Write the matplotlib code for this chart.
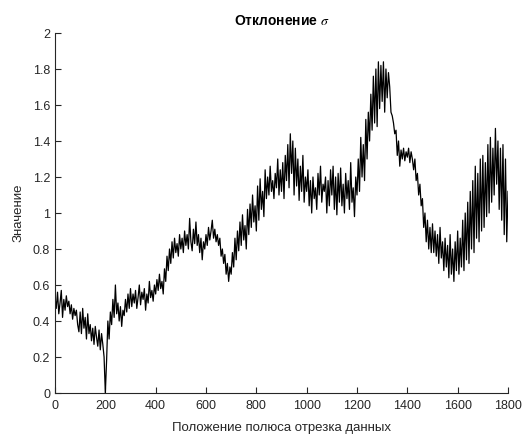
import numpy as np
import matplotlib
matplotlib.use("Agg")
import matplotlib.pyplot as plt

plt.rcParams['font.family'] = ['Liberation Sans', 'DejaVu Sans']
plt.rcParams['mathtext.fontset'] = 'stix'

# Positions along the data segment (step 5)
x_pos = list(range(0, 1801, 5))

# Values (peaks and troughs of the oscillating trace), 20 per 100 units
vals_0000 = [0.53, 0.47, 0.56, 0.44, 0.50, 0.57, 0.42, 0.52, 0.46, 0.54, 0.48, 0.51, 0.44, 0.49, 0.41, 0.47, 0.43, 0.46, 0.38, 0.34]
vals_0100 = [0.45, 0.33, 0.47, 0.36, 0.42, 0.30, 0.44, 0.33, 0.38, 0.29, 0.36, 0.27, 0.37, 0.31, 0.26, 0.35, 0.24, 0.33, 0.27, 0.20]
vals_0200 = [0.00, 0.18, 0.40, 0.30, 0.45, 0.38, 0.52, 0.42, 0.60, 0.44, 0.50, 0.40, 0.48, 0.37, 0.46, 0.43, 0.52, 0.45, 0.55, 0.47]
vals_0300 = [0.58, 0.48, 0.55, 0.50, 0.57, 0.47, 0.53, 0.60, 0.49, 0.56, 0.52, 0.58, 0.46, 0.55, 0.50, 0.62, 0.53, 0.57, 0.51, 0.60]
vals_0400 = [0.55, 0.63, 0.57, 0.66, 0.58, 0.62, 0.55, 0.69, 0.62, 0.76, 0.68, 0.80, 0.72, 0.84, 0.75, 0.86, 0.78, 0.83, 0.76, 0.88]
vals_0500 = [0.80, 0.86, 0.78, 0.90, 0.82, 0.88, 0.80, 0.97, 0.84, 0.79, 0.91, 0.83, 0.95, 0.82, 0.88, 0.78, 0.86, 0.74, 0.84, 0.80]
vals_0600 = [0.88, 0.82, 0.92, 0.85, 0.90, 0.96, 0.86, 0.91, 0.84, 0.88, 0.82, 0.86, 0.76, 0.80, 0.72, 0.77, 0.66, 0.72, 0.62, 0.70]
vals_0700 = [0.66, 0.78, 0.70, 0.86, 0.74, 0.90, 0.79, 0.95, 0.82, 0.99, 0.85, 0.93, 0.80, 1.02, 0.88, 1.05, 0.92, 1.10, 0.95, 1.04]
vals_0800 = [0.90, 1.15, 0.96, 1.19, 1.02, 1.12, 0.98, 1.24, 1.08, 1.20, 1.10, 1.26, 1.12, 1.18, 1.08, 1.22, 1.14, 1.30, 1.10, 1.24]
vals_0900 = [1.12, 1.28, 1.08, 1.32, 1.18, 1.38, 1.14, 1.44, 1.22, 1.40, 1.10, 1.36, 1.15, 1.30, 1.07, 1.26, 1.12, 1.32, 1.06, 1.20]
vals_1000 = [1.12, 1.24, 1.04, 1.18, 1.00, 1.20, 1.08, 1.14, 1.02, 1.22, 1.10, 1.26, 1.06, 1.16, 1.12, 1.20, 1.00, 1.18, 1.04, 1.24]
vals_1100 = [1.10, 1.26, 1.02, 1.20, 0.99, 1.22, 1.06, 1.25, 1.04, 1.16, 1.00, 1.22, 1.08, 1.18, 1.02, 1.28, 1.06, 1.14, 0.98, 1.20]
vals_1200 = [1.10, 1.30, 1.12, 1.42, 1.20, 1.38, 1.18, 1.52, 1.30, 1.56, 1.40, 1.66, 1.46, 1.76, 1.50, 1.80, 1.48, 1.84, 1.58, 1.82]
vals_1300 = [1.62, 1.84, 1.56, 1.80, 1.64, 1.78, 1.70, 1.56, 1.54, 1.50, 1.44, 1.46, 1.32, 1.40, 1.26, 1.35, 1.30, 1.36, 1.29, 1.34]
vals_1400 = [1.31, 1.36, 1.28, 1.34, 1.30, 1.24, 1.30, 1.18, 1.22, 1.10, 1.16, 1.04, 1.08, 0.92, 1.00, 0.84, 0.96, 0.80, 0.92, 0.78]
vals_1500 = [0.94, 0.78, 0.90, 0.76, 0.88, 0.72, 0.92, 0.75, 0.84, 0.68, 0.86, 0.70, 0.82, 0.64, 0.88, 0.66, 0.80, 0.62, 0.84, 0.68]
vals_1600 = [0.90, 0.66, 0.86, 0.70, 0.96, 0.68, 1.00, 0.74, 1.06, 0.72, 1.12, 0.80, 1.18, 0.78, 1.26, 0.86, 1.22, 0.84, 1.30, 0.90]
vals_1700 = [1.32, 0.92, 1.28, 0.98, 1.38, 1.00, 1.42, 1.06, 1.36, 1.10, 1.47, 1.16, 1.40, 1.02, 1.36, 0.96, 1.38, 0.88, 1.30, 0.84]
vals_1800 = [1.12]

values = (vals_0000 + vals_0100 + vals_0200 + vals_0300 + vals_0400 + vals_0500 +
          vals_0600 + vals_0700 + vals_0800 + vals_0900 + vals_1000 + vals_1100 +
          vals_1200 + vals_1300 + vals_1400 + vals_1500 + vals_1600 + vals_1700 +
          vals_1800)

x_ticks = [0, 200, 400, 600, 800, 1000, 1200, 1400, 1600, 1800]
y_ticks = [0, 0.2, 0.4, 0.6, 0.8, 1, 1.2, 1.4, 1.6, 1.8, 2]
y_tick_labels = ['0', '0.2', '0.4', '0.6', '0.8', '1', '1.2', '1.4', '1.6', '1.8', '2']

fig = plt.figure(figsize=(5.27, 4.36), dpi=100)
ax = fig.add_axes([55/527, 1 - 393/436, 453/527, 360/436])
ax.plot(x_pos, values, color='black', linewidth=0.9)

ax.set_xlim(0, 1800)
ax.set_ylim(0, 2)
ax.set_xticks(x_ticks)
ax.set_xticklabels([str(t) for t in x_ticks])
ax.set_yticks(y_ticks)
ax.set_yticklabels(y_tick_labels)

for s in ['top', 'right']:
    ax.spines[s].set_visible(False)
for s in ['left', 'bottom']:
    ax.spines[s].set_color('#262626')
    ax.spines[s].set_linewidth(0.8)
ax.tick_params(direction='in', length=4, width=0.8, colors='#262626',
               labelsize=9, labelcolor='#262626')
ax.tick_params(axis='x', pad=5)

ax.set_title('Отклонение $\\sigma$', fontsize=10, fontweight='bold', pad=6)
ax.set_xlabel('Положение полюса отрезка данных', fontsize=9.5, color='#262626', labelpad=7)
ax.set_ylabel('Значение', fontsize=9.5, color='#262626', labelpad=6)

fig.savefig('out.png', dpi=100)
